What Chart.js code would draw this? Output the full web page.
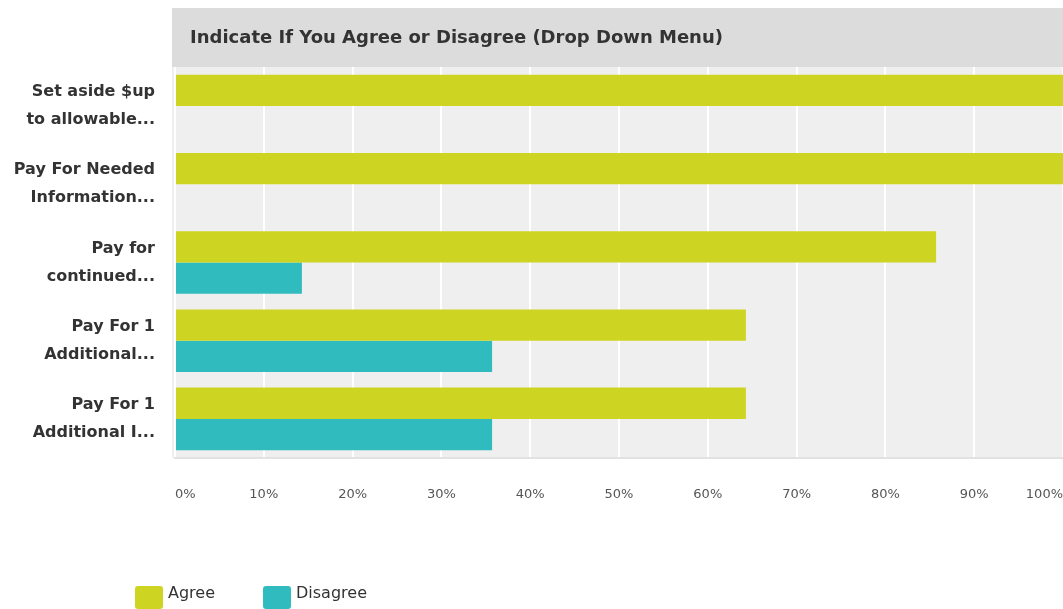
<!DOCTYPE html>
<html><head><meta charset="utf-8">
<script src="https://cdn.jsdelivr.net/npm/chart.js@4.4.1/dist/chart.umd.min.js"></script>
<style>html,body{margin:0;padding:0;background:#fff;overflow:hidden}#wrap{width:1063px;height:609px;position:relative}</style>
</head><body><div id="wrap"><canvas id="c" width="1063" height="609"></canvas></div>
<script>
const chartTitle = 'Indicate If You Agree or Disagree (Drop Down Menu)';
const categories = [
  ['Set aside $up', 'to allowable...'],
  ['Pay For Needed', 'Information...'],
  ['Pay for', 'continued...'],
  ['Pay For 1', 'Additional...'],
  ['Pay For 1', 'Additional I...']
];
const seriesNames = ['Agree', 'Disagree'];
const agreeValues = [100, 100, 85.71, 64.29, 64.29];
const disagreeValues = [0, 0, 14.29, 35.71, 35.71];
const xTickValues = [0, 10, 20, 30, 40, 50, 60, 70, 80, 90, 100];
const xTickLabels = ['0%', '10%', '20%', '30%', '40%', '50%', '60%', '70%', '80%', '90%', '100%'];
const seriesColors = ['#cdd422', '#30bcbe'];

const FONT = '"DejaVu Sans", "Liberation Sans", Arial, sans-serif';

const panelPlugin = {
  id: 'panel',
  beforeDraw(chart) {
    const { ctx, chartArea: a, width, height } = chart;
    ctx.save();
    ctx.fillStyle = '#ffffff';
    ctx.fillRect(0, 0, width, height);
    const px = a.left - 3;
    ctx.fillStyle = '#dcdcdc';
    ctx.fillRect(px, 8, width - px, a.top - 8);
    ctx.fillStyle = '#efefef';
    ctx.fillRect(px, a.top, width - px, a.bottom - a.top);
    ctx.fillStyle = '#333333';
    ctx.font = 'bold 18px ' + FONT;
    ctx.textBaseline = 'middle';
    ctx.textAlign = 'left';
    ctx.fillText(chartTitle, a.left + 15, 38);
    ctx.restore();
  }
};

const legendPlugin = {
  id: 'customLegend',
  afterDraw(chart) {
    const { ctx } = chart;
    ctx.save();
    ctx.font = '16px ' + FONT;
    ctx.textBaseline = 'middle';
    ctx.textAlign = 'left';
    let x = 135;
    const y = 586, bw = 28, bh = 23;
    chart.data.datasets.forEach(ds => {
      ctx.fillStyle = ds.backgroundColor;
      ctx.beginPath();
      if (ctx.roundRect) ctx.roundRect(x, y, bw, bh, 3); else ctx.rect(x, y, bw, bh);
      ctx.fill();
      ctx.fillStyle = '#333333';
      ctx.fillText(ds.label, x + bw + 5, 594);
      x += bw + 5 + ctx.measureText(ds.label).width + 48;
    });
    ctx.restore();
  }
};

new Chart(document.getElementById('c'), {
  type: 'bar',
  data: {
    labels: categories,
    datasets: [
      { label: seriesNames[0], data: agreeValues, backgroundColor: seriesColors[0], borderWidth: 0 },
      { label: seriesNames[1], data: disagreeValues, backgroundColor: seriesColors[1], borderWidth: 0 }
    ]
  },
  options: {
    indexAxis: 'y',
    responsive: false,
    animation: false,
    devicePixelRatio: 1,
    layout: { padding: { top: 67, left: 0, right: 0, bottom: 0 } },
    datasets: { bar: { categoryPercentage: 0.8, barPercentage: 1.0 } },
    plugins: { legend: { display: false }, title: { display: false }, tooltip: { enabled: false } },
    scales: {
      x: {
        min: 0, max: 100,
        afterBuildTicks(scale) { scale.ticks = xTickValues.map(v => ({ value: v })); },
        afterFit(scale) { scale.height = 151; },
        grid: { color: '#ffffff', lineWidth: 2, drawTicks: true, tickLength: 29, tickColor: 'rgba(0,0,0,0)' },
        border: { display: true, color: '#e2e2e2', width: 2 },
        ticks: {
          align: 'inner', padding: 0, color: '#555555', maxRotation: 0, autoSkip: false,
          font: { family: FONT, size: 13 },
          callback: (v, i) => xTickLabels[xTickValues.indexOf(v)]
        }
      },
      y: {
        afterFit(scale) { scale.width = 175; },
        grid: { display: false },
        border: { display: false },
        ticks: {
          padding: 12, color: '#333333', autoSkip: false,
          font: { family: FONT, size: 16, weight: 'bold', lineHeight: 1.75 }
        }
      }
    }
  },
  plugins: [panelPlugin, legendPlugin]
});
</script>
</body></html>
